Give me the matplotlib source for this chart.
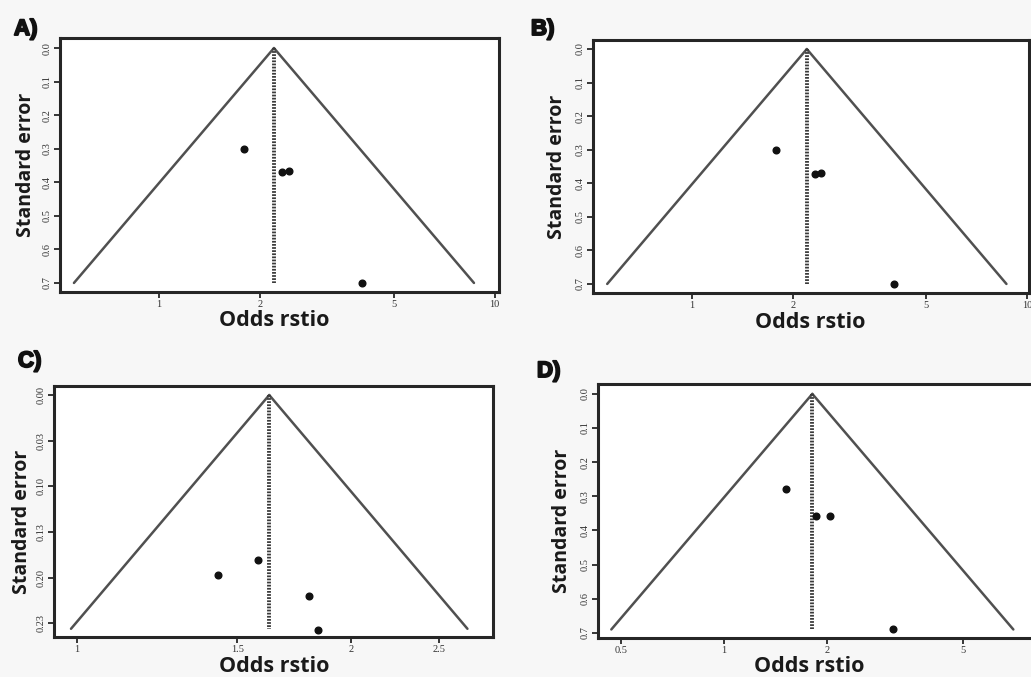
import numpy as np
import matplotlib
matplotlib.use("Agg")
import matplotlib.pyplot as plt
from matplotlib.ticker import FixedLocator, FixedFormatter, NullLocator
import matplotlib.patheffects as pe

# ---------------- data ----------------
panel_letters = ["A)", "B)", "C)", "D)"]

A_pooled = 2.20
A_se_max = 0.70
A_or = [1.79, 2.32, 2.44, 4.02]
A_se = [0.30, 0.37, 0.365, 0.70]

B_pooled = 2.20
B_se_max = 0.70
B_or = [1.78, 2.33, 2.43, 4.00]
B_se = [0.30, 0.372, 0.368, 0.70]

C_pooled = 1.626
C_se_max = 0.256
C_or = [1.58, 1.43, 1.80, 1.84]
C_se = [0.181, 0.197, 0.220, 0.257]

D_pooled = 1.81
D_se_max = 0.69
D_or = [1.52, 1.85, 2.04, 3.12]
D_se = [0.278, 0.357, 0.357, 0.688]

AB_xticks = [1, 2, 5, 10]
AB_xticklabels = ["1", "2", "5", "10"]
SE_yticks = [0.0, 0.1, 0.2, 0.3, 0.4, 0.5, 0.6, 0.7]
SE_yticklabels = ["0.0", "0.1", "0.2", "0.3", "0.4", "0.5", "0.6", "0.7"]
C_xticks = [1, 1.5, 2, 2.5]
C_xticklabels = ["1", "1.5", "2", "2.5"]
C_yticks = [0.00, 0.05, 0.10, 0.15, 0.20, 0.25]
C_yticklabels = ["0.00", "0.03", "0.10", "0.13", "0.20", "0.23"]
D_xticks = [0.5, 1, 2, 5]
D_xticklabels = ["0.5", "1", "2", "5"]

x_label = "Odds rstio"
y_label = "Standard error"

# ---------------- figure ----------------
W, H = 1031, 677
fig = plt.figure(figsize=(W / 100, H / 100), dpi=100, facecolor="#f7f7f7")


def px_rect(l, r, t, b):
    return [l / W, 1 - b / H, (r - l) / W, (b - t) / H]


def fx(x):
    return x / W


def fy(y):
    return 1 - y / H


panels = [
    dict(rect=px_rect(60, 499, 38, 292), pooled=A_pooled, se_max=A_se_max, ors=A_or, ses=A_se,
         xlim=(0.507, 10.3), ylim=(0.727, -0.030), xt=AB_xticks, xtl=AB_xticklabels,
         yt=SE_yticks, ytl=SE_yticklabels, letter=(14, 35), ylab=(26, 165), xlab=(274, 320)),
    dict(rect=px_rect(593, 1029, 40, 293), pooled=B_pooled, se_max=B_se_max, ors=B_or, ses=B_se,
         xlim=(0.506, 10.13), ylim=(0.727, -0.027), xt=AB_xticks, xtl=AB_xticklabels,
         yt=SE_yticks, ytl=SE_yticklabels, letter=(531, 35), ylab=(557, 167), xlab=(810, 322)),
    dict(rect=px_rect(54, 493, 386, 637), pooled=C_pooled, se_max=C_se_max, ors=C_or, ses=C_se,
         xlim=(0.943, 2.865), ylim=(0.265, -0.0099), xt=C_xticks, xtl=C_xticklabels,
         yt=C_yticks, ytl=C_yticklabels, letter=(18, 367), ylab=(22, 522), xlab=(274, 666)),
    dict(rect=px_rect(598, 1045, 384, 638), pooled=D_pooled, se_max=D_se_max, ors=D_or, ses=D_se,
         xlim=(0.428, 8.66), ylim=(0.715, -0.029), xt=D_xticks, xtl=D_xticklabels,
         yt=SE_yticks, ytl=SE_yticklabels, letter=(537, 377), ylab=(562, 521), xlab=(809, 666)),
]

line_col = "#505050"
spine_col = "#262626"

for letter, p in zip(panel_letters, panels):
    ax = fig.add_axes(p["rect"])
    ax.set_facecolor("white")
    ax.set_xscale("log")
    ax.set_xlim(*p["xlim"])
    ax.set_ylim(*p["ylim"])

    # funnel (pseudo 95% CI)
    se_line = np.array([0.0, p["se_max"]])
    lo = np.exp(np.log(p["pooled"]) - 1.96 * se_line)
    hi = np.exp(np.log(p["pooled"]) + 1.96 * se_line)
    ax.plot(lo, se_line, color=line_col, lw=1.8, solid_capstyle="round")
    ax.plot(hi, se_line, color=line_col, lw=1.8, solid_capstyle="round")
    ax.plot([p["pooled"], p["pooled"]], se_line, color="#3a3a3a", lw=2.8,
            linestyle=(0, (0.45, 0.35)))
    ax.plot(p["ors"], p["ses"], "o", color="#111111", markersize=4.8, linestyle="none")

    ax.xaxis.set_major_locator(FixedLocator(p["xt"]))
    ax.xaxis.set_major_formatter(FixedFormatter(p["xtl"]))
    ax.xaxis.set_minor_locator(NullLocator())
    ax.yaxis.set_major_locator(FixedLocator(p["yt"]))
    ax.yaxis.set_major_formatter(FixedFormatter(p["ytl"]))
    ax.yaxis.set_minor_locator(NullLocator())

    ax.tick_params(axis="both", direction="out", length=4, width=1.3, color=spine_col,
                   labelsize=7.5, labelcolor="#333333", pad=2)
    for lab in ax.get_xticklabels() + ax.get_yticklabels():
        lab.set_fontfamily("Liberation Serif")
    for lab in ax.get_yticklabels():
        lab.set_rotation(90)
        lab.set_va("center")

    for s in ax.spines.values():
        s.set_linewidth(2.2)
        s.set_color(spine_col)

    fig.text(fx(p["letter"][0]), fy(p["letter"][1]), letter, fontsize=16, fontweight="bold",
             family="Liberation Sans", ha="left", va="baseline", color="#111111",
             path_effects=[pe.withStroke(linewidth=1.4, foreground="#111111")])
    fig.text(fx(p["ylab"][0]), fy(p["ylab"][1]), y_label, rotation=90, fontsize=14,
             fontweight="bold", family="Open Sans", ha="center", va="center", color="#1a1a1a")
    fig.text(fx(p["xlab"][0]), fy(p["xlab"][1]), x_label, fontsize=15.5,
             fontweight="bold", family="Open Sans", ha="center", va="center", color="#1a1a1a")

fig.savefig("out.png", dpi=100, facecolor=fig.get_facecolor())
